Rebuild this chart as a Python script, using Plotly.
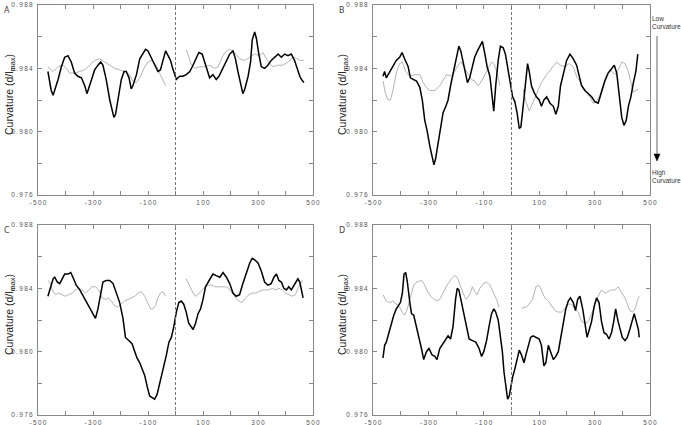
import plotly.graph_objects as go

# ---- panel A ----
a_black_x = [-464, -458, -452, -445, -439, -427, -415, -403, -391, -379, -367, -355, -342, -330, -322, -315,
             -306, -294, -282, -272, -264, -252, -239, -230, -224, -218, -209, -197, -187, -179, -169, -161,
             -155, -142, -130, -118, -109, -100, -88, -76, -64, -55, -45, -36, -27, -18, -12, -5, 3, 15, 27,
             39, 52, 61, 73, 85, 97, 106, 115, 124, 136, 148, 158, 170, 182, 197, 209, 218, 227, 236, 245,
             252, 264, 273, 279, 288, 294, 303, 312, 324, 336, 348, 361, 373, 385, 397, 409, 421, 433, 442,
             452, 458, 467]
a_black_y = [0.9838, 0.9831, 0.9826, 0.9823, 0.9826, 0.9833, 0.9841, 0.9847, 0.9848, 0.9844, 0.9837, 0.9835,
             0.9834, 0.9829, 0.9824, 0.9828, 0.9832, 0.9839, 0.9842, 0.9844, 0.9842, 0.9833, 0.9820, 0.9814,
             0.9809, 0.9811, 0.9820, 0.9833, 0.9838, 0.9838, 0.9834, 0.9827, 0.9829, 0.9836, 0.9846, 0.9849,
             0.9852, 0.9851, 0.9847, 0.9843, 0.9838, 0.9839, 0.9846, 0.9851, 0.9848, 0.9845, 0.9841, 0.9837,
             0.9833, 0.9835, 0.9835, 0.9836, 0.9838, 0.9841, 0.9846, 0.9850, 0.9849, 0.9844, 0.9838, 0.9834,
             0.9836, 0.9833, 0.9835, 0.9839, 0.9844, 0.9849, 0.9851, 0.9846, 0.9838, 0.9831, 0.9824, 0.9827,
             0.9835, 0.9844, 0.9858, 0.9863, 0.9859, 0.9849, 0.9841, 0.9840, 0.9842, 0.9845, 0.9847, 0.9849,
             0.9847, 0.9849, 0.9848, 0.9849, 0.9845, 0.9840, 0.9835, 0.9833, 0.9831]
a_gray_x = [-464, -445, -427, -409, -397, -385, -367, -348, -330, -312, -294, -276, -258, -239, -221, -203,
            -185, -167, -155, -142, -130, -115, -100, -85, -70, -58, -45, -36, 0,
            39, 48, 58, 70, 88, 106, 124, 142, 155, 167, 179, 197, 215, 233, 252, 270, 288, 306, 318, 330,
            342, 355, 373, 391, 409, 421, 433, 452, 467]
a_gray_y = [0.9841, 0.9838, 0.9841, 0.9842, 0.9840, 0.9837, 0.9837, 0.9838, 0.9839, 0.9842, 0.9845, 0.9846,
            0.9844, 0.9842, 0.9840, 0.9839, 0.9838, 0.9836, 0.9832, 0.9831, 0.9834, 0.9840, 0.9844, 0.9845,
            0.9842, 0.9837, 0.9832, 0.9829, None,
            0.9852, 0.9847, 0.9842, 0.9840, 0.9841, 0.9841, 0.9842, 0.9840, 0.9841, 0.9846, 0.9850, 0.9852,
            0.9850, 0.9846, 0.9845, 0.9847, 0.9849, 0.9848, 0.9850, 0.9846, 0.9843, 0.9841, 0.9842, 0.9842,
            0.9844, 0.9846, 0.9847, 0.9845, 0.9845]

# ---- panel B ----
b_black_x = [-464, -458, -452, -440, -428, -416, -404, -395, -386, -373, -365, -355, -343, -331, -322, -313,
             -305, -295, -287, -280, -274, -265, -257, -247, -237, -229, -220, -211, -199, -190, -183, -175,
             -166, -159, -151, -141, -133, -123, -114, -105, -96, -88, -78, -70, -64, -57, -48, -40, -30, -22,
             -12, -4, 4, 12, 20, 28, 34, 42, 51, 58, 64, 72, 81, 90, 100, 108, 117, 127, 139, 151, 160, 169,
             177, 187, 199, 211, 223, 235, 245, 253, 265, 277, 289, 301, 313, 325, 337, 349, 361, 371, 380,
             389, 398, 406, 414, 422, 431, 440, 449, 456]
b_black_y = [0.9835, 0.9838, 0.9834, 0.9838, 0.9842, 0.9845, 0.9847, 0.9850, 0.9846, 0.9841, 0.9834, 0.9833,
             0.9832, 0.9828, 0.9820, 0.9807, 0.9801, 0.9791, 0.9784, 0.9779, 0.9783, 0.9793, 0.9803, 0.9812,
             0.9816, 0.9820, 0.9829, 0.9837, 0.9847, 0.9854, 0.9851, 0.9845, 0.9838, 0.9831, 0.9834, 0.9841,
             0.9847, 0.9851, 0.9854, 0.9857, 0.9849, 0.9841, 0.9835, 0.9820, 0.9813, 0.9829, 0.9845, 0.9854,
             0.9853, 0.9849, 0.9838, 0.9829, 0.9822, 0.9819, 0.9812, 0.9802, 0.9803, 0.9816, 0.9831, 0.9843,
             0.9838, 0.9829, 0.9825, 0.9822, 0.9820, 0.9816, 0.9820, 0.9822, 0.9818, 0.9816, 0.9811, 0.9816,
             0.9829, 0.9837, 0.9845, 0.9849, 0.9846, 0.9842, 0.9835, 0.9829, 0.9826, 0.9824, 0.9822, 0.9819,
             0.9818, 0.9825, 0.9832, 0.9837, 0.9840, 0.9842, 0.9837, 0.9824, 0.9809, 0.9804, 0.9807, 0.9816,
             0.9822, 0.9831, 0.9838, 0.9849]
b_gray_x = [-464, -455, -446, -437, -428, -416, -404, -394, -382, -367, -349, -331, -319, -307, -295, -277,
            -259, -247, -235, -217, -205, -193, -181, -169, -157, -145, -133, -120, -108, -96, -84, -72, -63,
            -52, -42, 0,
            42, 52, 64, 76, 90, 108, 127, 145, 163, 177, 193, 208, 223, 235, 247, 259, 271, 283, 295, 307,
            319, 331, 343, 357, 373, 385, 398, 410, 422, 431, 440, 449, 458]
b_gray_y = [0.9832, 0.9824, 0.9820, 0.9820, 0.9826, 0.9837, 0.9843, 0.9844, 0.9838, 0.9835, 0.9836, 0.9836,
            0.9831, 0.9828, 0.9826, 0.9826, 0.9829, 0.9833, 0.9836, 0.9835, 0.9838, 0.9842, 0.9844, 0.9840,
            0.9836, 0.9833, 0.9832, 0.9829, 0.9832, 0.9836, 0.9841, 0.9844, 0.9843, 0.9837, 0.9829, None,
            0.9827, 0.9819, 0.9813, 0.9818, 0.9824, 0.9831, 0.9836, 0.9840, 0.9844, 0.9842, 0.9841, 0.9843,
            0.9841, 0.9835, 0.9831, 0.9828, 0.9825, 0.9822, 0.9818, 0.9819, 0.9823, 0.9829, 0.9836, 0.9839,
            0.9836, 0.9839, 0.9844, 0.9843, 0.9838, 0.9831, 0.9825, 0.9826, 0.9827]

# ---- panel C ----
c_black_x = [-464, -458, -452, -445, -439, -430, -421, -412, -403, -391, -381, -373, -361, -348, -336, -324,
             -312, -300, -291, -282, -272, -264, -252, -239, -227, -215, -203, -191, -182, -170, -158, -148,
             -140, -130, -121, -112, -103, -94, -85, -76, -67, -60, -52, -43, -33, -24, -15, -6, 3, 12, 21,
             30, 39, 48, 58, 64, 73, 82, 91, 100, 109, 118, 127, 136, 148, 161, 173, 185, 197, 209, 221, 233,
             245, 258, 270, 279, 288, 300, 312, 324, 336, 348, 358, 367, 376, 385, 394, 403, 412, 421, 433,
             445, 452, 458, 464]
c_black_y = [0.9835, 0.9839, 0.9843, 0.9846, 0.9847, 0.9844, 0.9843, 0.9846, 0.9849, 0.9849, 0.9850, 0.9847,
             0.9842, 0.9839, 0.9835, 0.9832, 0.9827, 0.9823, 0.9821, 0.9827, 0.9836, 0.9844, 0.9845, 0.9845,
             0.9843, 0.9837, 0.9831, 0.9821, 0.9809, 0.9807, 0.9805, 0.9800, 0.9796, 0.9793, 0.9789, 0.9785,
             0.9778, 0.9772, 0.9771, 0.9770, 0.9773, 0.9778, 0.9785, 0.9791, 0.9798, 0.9806, 0.9809, 0.9816,
             0.9825, 0.9831, 0.9832, 0.9830, 0.9825, 0.9818, 0.9815, 0.9814, 0.9818, 0.9824, 0.9827, 0.9833,
             0.9841, 0.9844, 0.9847, 0.9849, 0.9848, 0.9847, 0.9850, 0.9847, 0.9843, 0.9837, 0.9835, 0.9836,
             0.9843, 0.9850, 0.9856, 0.9859, 0.9858, 0.9856, 0.9851, 0.9844, 0.9842, 0.9843, 0.9847, 0.9849,
             0.9845, 0.9844, 0.9840, 0.9839, 0.9841, 0.9839, 0.9843, 0.9846, 0.9844, 0.9839, 0.9834]
c_gray_x = [-464, -458, -448, -437, -425, -412, -400, -388, -376, -364, -352, -340, -327, -315, -303, -291,
            -279, -267, -255, -245, -233, -221, -209, -197, -185, -173, -161, -148, -136, -124, -112, -100,
            -91, -82, -73, -64, -55, -45, -36, 0,
            39, 48, 58, 67, 76, 85, 97, 109, 121, 133, 145, 158, 170, 182, 194, 206, 218, 230, 242, 255, 267,
            279, 291, 303, 315, 327, 339, 352, 364, 376, 388, 400, 412, 424, 436, 445, 455, 462]
c_gray_y = [0.9845, 0.9844, 0.9839, 0.9836, 0.9837, 0.9836, 0.9835, 0.9836, 0.9837, 0.9839, 0.9840, 0.9839,
            0.9837, 0.9839, 0.9841, 0.9841, 0.9839, 0.9834, 0.9833, 0.9834, 0.9832, 0.9829, 0.9828, 0.9830,
            0.9832, 0.9833, 0.9834, 0.9835, 0.9837, 0.9838, 0.9835, 0.9830, 0.9827, 0.9827, 0.9829, 0.9834,
            0.9837, 0.9838, 0.9835, None,
            0.9846, 0.9843, 0.9839, 0.9836, 0.9835, 0.9837, 0.9839, 0.9841, 0.9842, 0.9842, 0.9841, 0.9841,
            0.9841, 0.9841, 0.9840, 0.9837, 0.9834, 0.9832, 0.9831, 0.9834, 0.9836, 0.9837, 0.9837, 0.9838,
            0.9839, 0.9839, 0.9839, 0.9840, 0.9839, 0.9840, 0.9839, 0.9837, 0.9836, 0.9835, 0.9836, 0.9840,
            0.9843, 0.9845]

# ---- panel D ----
d_black_x = [-464, -458, -452, -443, -434, -425, -416, -410, -401, -394, -388, -382, -376, -367, -361, -353,
             -343, -334, -325, -317, -307, -298, -287, -277, -269, -259, -247, -237, -229, -220, -211, -202,
             -196, -190, -183, -175, -165, -153, -141, -129, -117, -108, -100, -90, -81, -72, -64, -57, -48,
             -40, -33, -27, -20, -14, -8, -2, 4, 12, 20, 28, 36, 45, 52, 60, 69, 78, 90, 100, 108, 117, 124,
             133, 141, 151, 160, 169, 177, 187, 196, 205, 213, 223, 231, 239, 247, 257, 265, 273, 281, 289,
             299, 307, 316, 325, 334, 343, 352, 361, 369, 376, 385, 393, 400, 410, 418, 427, 436, 443, 452,
             458, 461]
d_black_y = [0.9796, 0.9804, 0.9806, 0.9812, 0.9817, 0.9823, 0.9827, 0.9829, 0.9831, 0.9837, 0.9849, 0.9850,
             0.9844, 0.9831, 0.9824, 0.9823, 0.9816, 0.9808, 0.9802, 0.9795, 0.9800, 0.9802, 0.9798, 0.9797,
             0.9795, 0.9802, 0.9805, 0.9808, 0.9810, 0.9808, 0.9816, 0.9833, 0.9840, 0.9839, 0.9833, 0.9826,
             0.9816, 0.9808, 0.9807, 0.9806, 0.9802, 0.9797, 0.9800, 0.9807, 0.9816, 0.9824, 0.9827, 0.9825,
             0.9820, 0.9810, 0.9800, 0.9787, 0.9776, 0.9770, 0.9772, 0.9778, 0.9784, 0.9789, 0.9795, 0.9801,
             0.9798, 0.9793, 0.9798, 0.9804, 0.9809, 0.9810, 0.9809, 0.9808, 0.9804, 0.9791, 0.9793, 0.9804,
             0.9800, 0.9795, 0.9797, 0.9800, 0.9808, 0.9818, 0.9827, 0.9832, 0.9834, 0.9831, 0.9826, 0.9833,
             0.9835, 0.9827, 0.9818, 0.9809, 0.9814, 0.9819, 0.9829, 0.9834, 0.9831, 0.9819, 0.9812, 0.9811,
             0.9808, 0.9812, 0.9819, 0.9827, 0.9819, 0.9813, 0.9809, 0.9807, 0.9809, 0.9814, 0.9819, 0.9824,
             0.9818, 0.9814, 0.9809]
d_gray_x = [-464, -452, -440, -428, -416, -407, -394, -386, -376, -366, -353, -341, -325, -313, -301, -286,
            -271, -259, -247, -233, -217, -205, -196, -187, -175, -163, -151, -141, -133, -124, -114, -102,
            -90, -78, -66, -54, -45, 0,
            36, 45, 54, 64, 76, 88, 98, 108, 120, 133, 145, 157, 169, 181, 193, 205, 217, 229, 241, 253, 265,
            277, 289, 301, 313, 325, 337, 349, 361, 373, 385, 398, 410, 418, 427, 437, 446, 454, 461]
d_gray_y = [0.9836, 0.9832, 0.9831, 0.9832, 0.9830, 0.9829, 0.9825, 0.9823, 0.9827, 0.9834, 0.9842, 0.9844,
            0.9845, 0.9842, 0.9837, 0.9834, 0.9832, 0.9833, 0.9837, 0.9842, 0.9846, 0.9848, 0.9847, 0.9843,
            0.9837, 0.9833, 0.9836, 0.9841, 0.9838, 0.9836, 0.9840, 0.9843, 0.9844, 0.9842, 0.9837, 0.9833,
            0.9828, None,
            0.9827, 0.9828, 0.9828, 0.9830, 0.9833, 0.9841, 0.9842, 0.9839, 0.9834, 0.9832, 0.9829, 0.9826,
            0.9825, 0.9825, 0.9827, 0.9830, 0.9830, 0.9827, 0.9825, 0.9819, 0.9818, 0.9819, 0.9824, 0.9830,
            0.9835, 0.9839, 0.9837, 0.9838, 0.9839, 0.9839, 0.9841, 0.9837, 0.9834, 0.9830, 0.9826, 0.9825,
            0.9827, 0.9832, 0.9835]

x_ticks = [-500, -400, -300, -200, -100, 0, 100, 200, 300, 400, 500]
x_labels = ['-500', '', '-300', '', '-100', '', '100', '', '300', '', '500']
y_ticks = [0.976, 0.978, 0.980, 0.982, 0.984, 0.986, 0.988]
y_labels = ['0.976', '', '0.980', '', '0.984', '', '0.988']

W, H = 681, 425
TICKFONT = dict(family='Liberation Sans', size=6.5, color='#555555')


def spaced(s):
    return '\u2009'.join(s)


panels = [
    ('A', a_black_x, a_black_y, a_gray_x, a_gray_y, (38, 313), (5, 195)),
    ('B', b_black_x, b_black_y, b_gray_x, b_gray_y, (373, 650), (5, 195)),
    ('C', c_black_x, c_black_y, c_gray_x, c_gray_y, (38, 313), (225, 415)),
    ('D', d_black_x, d_black_y, d_gray_x, d_gray_y, (373, 650), (225, 415)),
]

fig = go.Figure()
shapes = []
annotations = []

for i, (letter, bx, by, gx, gy, (x0, x1), (y0, y1)) in enumerate(panels):
    n = '' if i == 0 else str(i + 1)
    xa, ya = 'x' + n, 'y' + n
    fig.add_trace(go.Scatter(x=gx, y=gy, mode='lines', xaxis=xa, yaxis=ya,
                             line=dict(color='#b4b4b4', width=1), showlegend=False))
    fig.add_trace(go.Scatter(x=bx, y=by, mode='lines', xaxis=xa, yaxis=ya,
                             line=dict(color='black', width=1.5), showlegend=False))
    fig.update_layout(**{
        'xaxis' + n: dict(domain=[x0 / W, x1 / W], anchor=ya, range=[-500, 500], automargin=False,
                          tickvals=x_ticks, ticktext=[spaced(t) for t in x_labels],
                          ticks='inside', ticklen=4, tickcolor='#888888', mirror='ticks',
                          showline=True, linecolor='#888888', linewidth=1,
                          showgrid=False, zeroline=False, tickfont=TICKFONT, ticklabelstandoff=1),
        'yaxis' + n: dict(domain=[1 - y1 / H, 1 - y0 / H], anchor=xa, range=[0.976, 0.988], automargin=False,
                          tickvals=y_ticks, ticktext=[spaced(t) for t in y_labels],
                          ticks='inside', ticklen=4, tickcolor='#888888', mirror='ticks',
                          showline=True, linecolor='#888888', linewidth=1,
                          showgrid=False, zeroline=False, tickfont=TICKFONT, ticklabelstandoff=3),
    })
    # dashed line at the dyad
    shapes.append(dict(type='line', xref=xa, yref=ya + ' domain', x0=0, x1=0, y0=0, y1=1,
                       line=dict(color='#777777', width=1, dash='3px,2px')))
    annotations.append(dict(text=letter, xref='paper', yref='paper', x=(x0 - 36) / W, y=1 - (y0 - 1) / H,
                            xanchor='left', yanchor='top', showarrow=False,
                            font=dict(family='DejaVu Sans', size=8, color='#444444')))
    title_x = 10 if i % 2 == 0 else 343
    annotations.append(dict(text='Curvature (d/l<sub>max</sub>)', xref='paper', yref='paper',
                            x=title_x / W, y=1 - (y0 + 90) / H, textangle=-90,
                            xanchor='center', yanchor='middle', showarrow=False,
                            font=dict(family='Liberation Sans', size=10.5, color='#222222')))

# Low / High curvature guide on the right
annotations.append(dict(text='Low<br>Curvature', xref='paper', yref='paper', x=650 / W, y=1 - 13 / H,
                        xanchor='left', yanchor='top', align='left', showarrow=False,
                        font=dict(family='Liberation Sans', size=6.5, color='#333333')))
annotations.append(dict(text='High<br>Curvature', xref='paper', yref='paper', x=650 / W, y=1 - 167 / H,
                        xanchor='left', yanchor='top', align='left', showarrow=False,
                        font=dict(family='Liberation Sans', size=6.5, color='#333333')))
shapes.append(dict(type='line', xref='paper', yref='paper', x0=657 / W, x1=657 / W,
                   y0=1 - 36 / H, y1=1 - 155 / H, line=dict(color='#999999', width=1.5)))
shapes.append(dict(type='path', xref='paper', yref='paper',
                   path='M %f %f L %f %f L %f %f Z' % (654 / W, 1 - 154 / H, 660 / W, 1 - 154 / H,
                                                       657 / W, 1 - 161 / H),
                   fillcolor='black', line=dict(color='black', width=0.5)))

fig.update_layout(width=W, height=H, margin=dict(l=0, r=0, t=0, b=0),
                  paper_bgcolor='white', plot_bgcolor='white',
                  shapes=shapes, annotations=annotations)

# the page body has a default 8px margin; drop it so the figure sits at the window corner
fig.write_html('out.html', config={'displayModeBar': False},
               post_script="document.body.style.margin='0';")
